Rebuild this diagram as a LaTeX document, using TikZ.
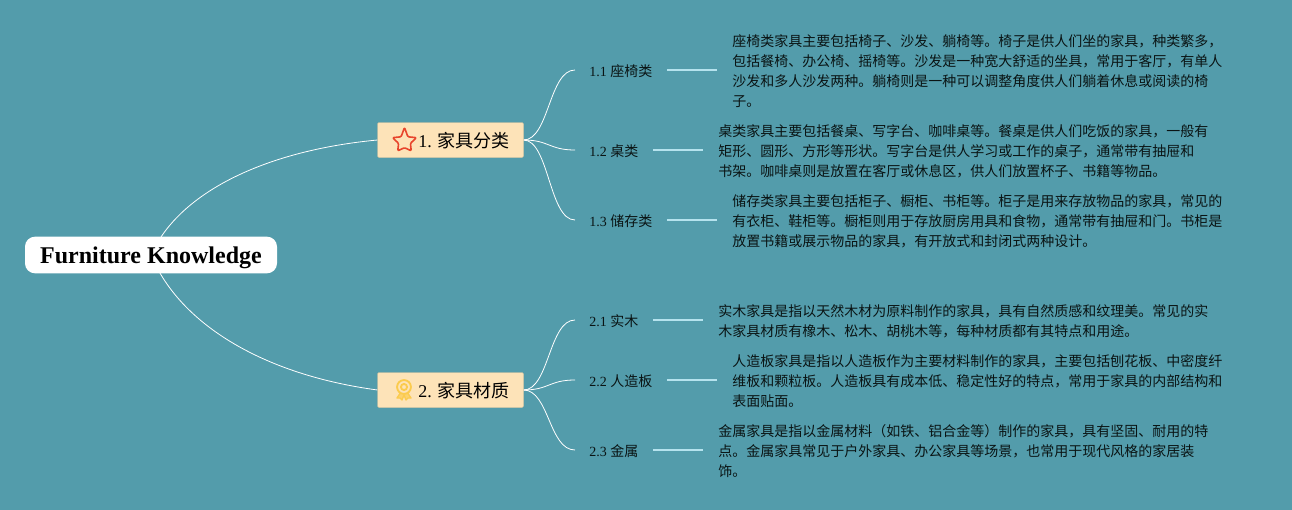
\documentclass[tikz,border=0pt]{standalone}
\usepackage{fontspec}
\setmainfont{Liberation Serif}
\newfontfamily\cjk{Noto Sans CJK SC}
\definecolor{bgc}{HTML}{539CAB}
\definecolor{boxc}{HTML}{FDE3B8}
\definecolor{linkc}{HTML}{B5E3EE}
\definecolor{txtc}{HTML}{0A1414}
\definecolor{starc}{HTML}{E8452C}
\definecolor{medalc}{HTML}{FBCB4E}
\tikzset{
 x=0.75pt,y=-0.75pt,
 rootbox/.style={fill=white,rounded corners=7.5pt,minimum width=189pt,minimum height=27.5pt,inner sep=0pt,text=black,font=\fontsize{18}{20}\selectfont\bfseries},
 branchbox/.style={fill=boxc,draw=boxc!85!black,line width=0.3pt,rounded corners=1pt,minimum width=109.5pt,minimum height=26.25pt,inner sep=0pt,text=black,font=\fontsize{13.5}{16}\selectfont},
 sublabel/.style={anchor=west,inner sep=0pt,text=txtc,font=\fontsize{10.5}{12}\selectfont},
 desc/.style={anchor=west,inner sep=0pt,align=left,text=txtc,font=\fontsize{10.5}{15}\selectfont\cjk},
 curve/.style={draw=white,line width=0.6pt},
 stub/.style={draw=linkc,line width=1pt},
}
\begin{document}
\begin{tikzpicture}
\useasboundingbox[fill=bgc] (0,0) rectangle (1292,510);
\coordinate (rootc) at (151,255);
\coordinate (bA) at (377.5,140);
\coordinate (bB) at (377.5,390);
\coordinate (bAr) at (523.5,140);
\coordinate (bBr) at (523.5,390);
\foreach \n/\y in {a/70,b/150,c/220,d/320,e/380,f/450}{
 \coordinate (\n l) at (575,\y);
}
\draw[curve] (rootc) .. controls (180,190) and (270,150) .. (bA);
\draw[curve] (rootc) .. controls (180,325) and (265,375) .. (bB);
\foreach \s/\yy/\t in {bAr/140/al,bAr/140/bl,bAr/140/cl,bBr/390/dl,bBr/390/el,bBr/390/fl}{
 \draw[curve] (\s) .. controls (549,\yy) and (549,0|-\t) .. (\t);
}
\node[rootbox] (root) at (151,255) {\raisebox{-6pt}[0pt][0pt]{Furniture Knowledge}};
\node[branchbox] (b1) at (450.5,140) {\hspace*{20.5pt}\raisebox{-5.4pt}[0pt][0pt]{1. {\cjk 家具分类}}};
\node[branchbox] (b2) at (450.5,390) {\hspace*{20.5pt}\raisebox{-5.4pt}[0pt][0pt]{2. {\cjk 家具材质}}};
\begin{scope}[shift={(404.5,141.5)}]
\draw[starc,line width=1.2pt,line join=round,rounded corners=0.8pt]
 (-90:14)--(-54:5.8)--(-18:12.5)--(18:6.2)--(54:11.5)--(90:6.2)--(126:11.5)--(162:6.2)--(198:12.5)--(234:5.8)--cycle;
\end{scope}
\begin{scope}[shift={(404,387)}]
\draw[medalc,line width=1pt,fill=medalc!70!boxc,line join=round] (-3,5) -- (-7,11) -- (-4,11) -- (-2,13) -- (0,8) -- (2,13) -- (4,11) -- (7,11) -- (3,5) -- cycle;
\draw[medalc,line width=1.4pt,fill=boxc] (0,0) circle (5.2pt);
\draw[medalc,line width=1.4pt] (0,0) circle (2.3pt);
\end{scope}
\node[sublabel] (s1) at (589,71) {1.1 {\cjk 座椅类}};
\node[sublabel] (s2) at (589,151) {1.2 {\cjk 桌类}};
\node[sublabel] (s3) at (589,221) {1.3 {\cjk 储存类}};
\node[sublabel] (s4) at (589,321) {2.1 {\cjk 实木}};
\node[sublabel] (s5) at (589,381) {2.2 {\cjk 人造板}};
\node[sublabel] (s6) at (589,451) {2.3 {\cjk 金属}};
\node[desc] (d1) at (732,71) {座椅类家具主要包括椅子、沙发、躺椅等。椅子是供人们坐的家具，种类繁多，\\包括餐椅、办公椅、摇椅等。沙发是一种宽大舒适的坐具，常用于客厅，有单人\\沙发和多人沙发两种。躺椅则是一种可以调整角度供人们躺着休息或阅读的椅\\子。};
\node[desc] (d2) at (718,151) {桌类家具主要包括餐桌、写字台、咖啡桌等。餐桌是供人们吃饭的家具，一般有\\矩形、圆形、方形等形状。写字台是供人学习或工作的桌子，通常带有抽屉和\\书架。咖啡桌则是放置在客厅或休息区，供人们放置杯子、书籍等物品。};
\node[desc] (d3) at (732,221) {储存类家具主要包括柜子、橱柜、书柜等。柜子是用来存放物品的家具，常见的\\有衣柜、鞋柜等。橱柜则用于存放厨房用具和食物，通常带有抽屉和门。书柜是\\放置书籍或展示物品的家具，有开放式和封闭式两种设计。};
\node[desc] (d4) at (718,321) {实木家具是指以天然木材为原料制作的家具，具有自然质感和纹理美。常见的实\\木家具材质有橡木、松木、胡桃木等，每种材质都有其特点和用途。};
\node[desc] (d5) at (732,381) {人造板家具是指以人造板作为主要材料制作的家具，主要包括刨花板、中密度纤\\维板和颗粒板。人造板具有成本低、稳定性好的特点，常用于家具的内部结构和\\表面贴面。};
\node[desc] (d6) at (718,451) {金属家具是指以金属材料（如铁、铝合金等）制作的家具，具有坚固、耐用的特\\点。金属家具常见于户外家具、办公家具等场景，也常用于现代风格的家居装\\饰。};
\coordinate (t1a) at (667,70);\coordinate (t1b) at (717,70);
\coordinate (t2a) at (653,150);\coordinate (t2b) at (703,150);
\coordinate (t3a) at (667,220);\coordinate (t3b) at (717,220);
\coordinate (t4a) at (653,320);\coordinate (t4b) at (703,320);
\coordinate (t5a) at (667,380);\coordinate (t5b) at (717,380);
\coordinate (t6a) at (653,450);\coordinate (t6b) at (703,450);
\foreach \i in {1,...,6}{\draw[stub] (t\i a) -- (t\i b);}
\end{tikzpicture}
\end{document}
